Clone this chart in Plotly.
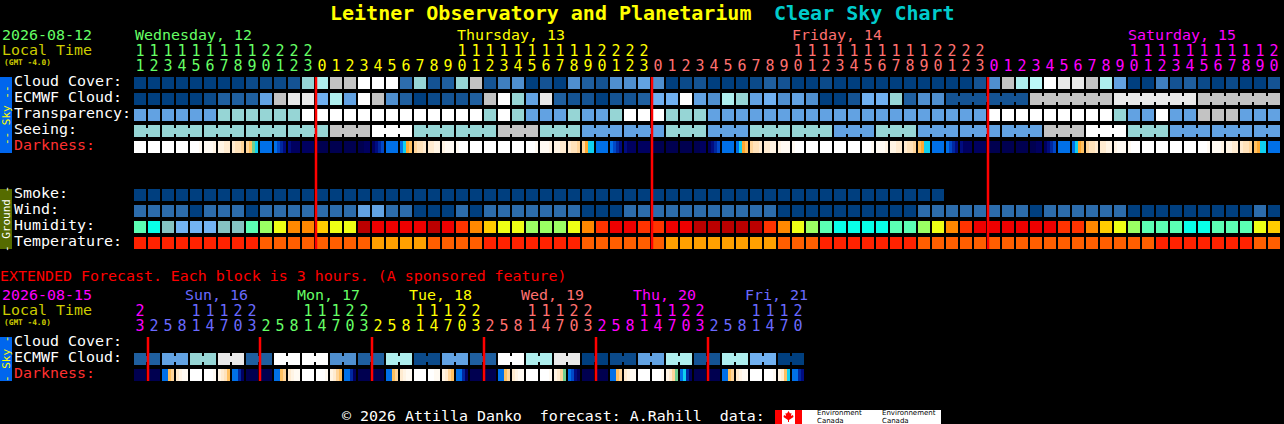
import plotly.graph_objects as go

W, H = 1284, 424
MONO = "DejaVu Sans Mono"

# ---------- data ----------
HOURS = [11,12,13,14,15,16,17,18,19,20,21,22,23] + list(range(24)) + list(range(24)) + list(range(21))
DAY_SPANS = [(13, "#66FF66"), (24, "#FFFF00"), (24, "#FF7070"), (21, "#FF00FF")]
EXT_HOURS = [23] + [2,5,8,11,14,17,20,23]*5 + [2,5,8,11,14,17,20]
EXT_SPANS = [(1, "#FF00FF"), (8, "#6A6AFF"), (8, "#66FF66"), (8, "#FFFF00"), (8, "#FF7070"), (8, "#FF00FF"), (7, "#6A6AFF")]

CLOUD = "aaaaaaaabbbcjkoommmej" "cdjocfgacagdcgghg" "abcaaabdcaabaa" "aaaaaaaac" "goklmnnokh" "aafcdbabaac"
ECMWF = "aaaaabdddhonnikhmogda" "bccdomjhndccaccdi" "imhgkjhighgaac" "iijdgg" "cccccc" "oooooo" "nnnnnn" "oooooo"
ECMWF_SPANS = [1]*58 + [6, 6, 6, 6]
TRANSP = "hhhhhh" "jjjjjj" "mmmmmmmmmmmmm" "j" "m" "j" "hhh" "j" "hh" "j" "mmm" "jjj" "hhhhhhhhhhhhhhhhhhhh" "mmmmmmmmm" "j" "hh" "m" "hh" "ooo" "hhh"
SEEING = "jjjjjomjjojhhjhjjhjhhhomjhhh"
SEEING_SPANS = [2] + [3]*26 + [2]
SMOKE = "a"*58
WIND = ("ttttattta" "ttttttt" "hhtta" "aata" "ttttttt" "aaa" "ttttttttttt" "aaaaaaaaaa" "tttttttt" "a" "tttttt" "aaaaaaaaa" "ta")
HUMID = "MCTBBBTTMLYOOAYYDEEEE" "DEROAYYLLLYOREERREEDDDDDROYLMCC" "CCMMLYOREEEEEERROAYLMMMCCMMMYA"
TEMP = "RRRRRRRRR" "OOOOOOOO" "AAAA" "OOOO" "RRRRRRR" "OOOOOO" "AAAAAAAA" "OOO" "RRRRRRR" "OOOOOOOOOOOOOOOOO" "RRRRRRR" "OO"
DARK = ["0000","0000","0000","0000","0001","1112","2233","3445","5689","aaaa","abcd","deee","eeee","ffff","ffff","ffff","ffee","edcb","aaaa","a976","5443","3322","2111","1000",
        "0000","0000","0000","0000","0001","1112","2233","3445","5799","aaaa","abcd","deee","eeee","ffff","ffff","ffff","ffee","edcb","aaaa","a976","5443","3322","2111","1000",
        "0000","0000","0000","0000","0001","1112","2233","3445","6799","aaaa","abcd","deee","eeee","ffff","ffff","ffff","ffee","edcb","aaaa","a976","5443","3322","2111","1000",
        "0000","0000","0000","0000","0001","1112","2233","3445","6799","aaaa"]
EXT_ECMWF = "dhjndmmgdkbhdmknabhkckia"
EXT_DARK = ["ffff","ffff","aa65","3211","0000","0001","2346","aace",
            "ffff","ffff","aa65","3211","0000","0001","2356","aace",
            "ffff","ffff","aa65","3211","0000","0011","2356","aace",
            "ffff","ffff","aa65","3211","0000","0001","2358","abde",
            "ffff","ffff","aa65","3211","0000","0001","2358","a9ce",
            "ffff","ffff","aa65","3211","0000","0001","2369","aacd"]
MIDNIGHTS = [13, 37, 61]
EXT_MIDNIGHTS = [1, 9, 17, 25, 33, 41]

SKY_PAL = dict(a="#003F7F", b="#0B4A8A", c="#145393", d="#1F5F9F", e="#2D6DAD", f="#3F7FBF", g="#4F8FCF",
               h="#62A2E2", i="#70B0F0", j="#96D5D5", k="#AEEEEE", l="#BBF8F8", m="#FFFFFF", n="#E9E9E9", o="#C3C3C3")
WIND_PAL = dict(a="#003F7F", t="#2C6CAC", h="#62A2E2")
HUM_PAL = dict(M="#5BFFB4", C="#08FFE8", T="#85C2C2", B="#73B3F3", L="#9BFF63", Y="#EEFF15", A="#FFCC00",
               O="#FF8800", R="#FF3300", E="#EE0000", D="#BB0000")
TEMP_PAL = dict(R="#FF2200", O="#FF5E00", A="#FFA000")
DARK_PAL = ["#FFFFFF","#FFFAF2","#FFF4E4","#FFEBD0","#FFE2BA","#FFD59A","#FFC060","#FFA830",
            "#70D090","#10D0F0","#0070E8","#0048C8","#0028A0","#000C80","#000060","#000050"]

# ---------- helpers ----------
fig = go.Figure()

def stepscale(cols):
    n = len(cols)
    cs = []
    for i, c in enumerate(cols):
        cs += [[i / n, c], [(i + 1) / n, c]]
    return cs

def row(letters, y, pal):
    keys = list(pal)
    fig.add_trace(go.Heatmap(x=list(range(len(letters))), y=[y - 8, y + 8],
                             z=[[keys.index(c) + .5 for c in letters]],
                             zmin=0, zmax=len(keys), colorscale=stepscale(list(pal.values())),
                             showscale=False, xgap=2, ygap=4, hoverinfo="skip"))

def dark_row(blocks, y):
    edges, z = [], []
    for i, b in enumerate(blocks):
        for k, c in enumerate(b):
            edges.append(i - 6/14 + k * 3/14)
            z.append(int(c, 16) + .5)
        edges.append(i + 6/14)
        z.append(None)
    edges.append(len(blocks) - 1 + 8/14)
    fig.add_trace(go.Heatmap(x=edges, y=[y - 8, y + 8], z=[z], zmin=0, zmax=16,
                             colorscale=stepscale(DARK_PAL), showscale=False, ygap=4, hoverinfo="skip"))

def connectors(letters, spans, y, pal):
    by = {}
    c = 0
    for letter, sp in zip(letters, spans):
        if sp > 1:
            d = by.setdefault(letter, [[], []])
            d[0] += [c, c + sp - 1, None]
            d[1] += [y, y, None]
        c += sp
    for letter, (xs, ys) in by.items():
        fig.add_trace(go.Scatter(x=xs, y=ys, mode="lines", line=dict(color=pal[letter], width=6), hoverinfo="skip"))

def label_digits(vals, colors, y):
    xs = [i for i, v in enumerate(vals) if v != ""]
    fig.add_trace(go.Scatter(x=xs, y=[y] * len(xs), mode="text", text=[vals[i] for i in xs],
                             textposition="middle center", hoverinfo="skip",
                             textfont=dict(family=MONO, size=15, color=[colors[i] for i in xs])))

def expand(spans):
    out = []
    for n, c in spans:
        out += [c] * n
    return out

def txt(x, y, s, color, size=14.95, bold=False, family=MONO, angle=0, anchor="left"):
    fig.add_annotation(x=x / W, y=1 - y / H, xref="paper", yref="paper", text=f"<b>{s}</b>" if bold else s,
                       showarrow=False, xanchor=anchor, yanchor="middle", borderpad=0, textangle=angle,
                       font=dict(family=family, size=size, color=color))

def rect(x0, y0, x1, y1, color):
    fig.add_shape(type="rect", xref="paper", yref="paper", x0=x0 / W, x1=x1 / W, y0=1 - y0 / H, y1=1 - y1 / H,
                  fillcolor=color, line_width=0, layer="below")

# ---------- rows ----------
row(CLOUD, 83, SKY_PAL)
row(ECMWF, 99, SKY_PAL)
row(TRANSP, 115, SKY_PAL)
row("".join(l * s for l, s in zip(SEEING, SEEING_SPANS)), 131, SKY_PAL)
dark_row(DARK, 147)
row(SMOKE, 195, SKY_PAL)
row(WIND, 211, WIND_PAL)
row(HUMID, 227, HUM_PAL)
row(TEMP, 243, TEMP_PAL)
row("".join(l * 2 for l in EXT_ECMWF), 359, SKY_PAL)
dark_row(EXT_DARK, 375)

connectors(SEEING, SEEING_SPANS, 131, SKY_PAL)
fullecm = []
c = 0
for sp in ECMWF_SPANS:
    fullecm.append(ECMWF[c]); c += sp
connectors(fullecm, ECMWF_SPANS, 99, SKY_PAL)
connectors(EXT_ECMWF, [2] * len(EXT_ECMWF), 359, SKY_PAL)

# midnight lines
xs, ys = [], []
for m in MIDNIGHTS:
    xs += [m - 6/14, m - 6/14, None]; ys += [77, 249, None]
for m in EXT_MIDNIGHTS:
    xs += [m - 6/14, m - 6/14, None]; ys += [337, 381, None]
fig.add_trace(go.Scatter(x=xs, y=ys, mode="lines", line=dict(color="#FF0000", width=2.5), hoverinfo="skip"))

# hour digits
cols = expand(DAY_SPANS)
label_digits([str(h // 10) if h >= 10 else "" for h in HOURS], cols, 52)
label_digits([str(h % 10) for h in HOURS], cols, 67)
ecols = expand(EXT_SPANS)
label_digits([str(h // 10) if h >= 10 else "" for h in EXT_HOURS], ecols, 312)
label_digits([str(h % 10) for h in EXT_HOURS], ecols, 327)

# ---------- text ----------
txt(329, 13, "Leitner Observatory and Planetarium", "#FFFF00", 20, True)
txt(773, 13, "Clear Sky Chart", "#00CCCC", 20, True)
txt(1, 35, "2026-08-12", "#66FF66")
txt(1, 50, "Local Time", "#CCCC00")
txt(3, 62, "(GMT -4.0)", "#CCCC00", 7.8, True)
for x, s, c in [(134, "Wednesday, 12", "#66FF66"), (456, "Thursday, 13", "#FFFF00"),
                (791, "Friday, 14", "#FF7070"), (1127, "Saturday, 15", "#FF00FF")]:
    txt(x, 35, s, c)
for y, s, c in [(81, "Cloud Cover:", "#FFFFFF"), (97, "ECMWF Cloud:", "#FFFFFF"), (113, "Transparency:", "#FFFFFF"),
                (129, "Seeing:", "#FFFFFF"), (145, "Darkness:", "#FF3030"), (193, "Smoke:", "#FFFFFF"),
                (209, "Wind:", "#FFFFFF"), (225, "Humidity:", "#FFFFFF"), (241, "Temperature:", "#FFFFFF"),
                (341, "Cloud Cover:", "#FFFFFF"), (357, "ECMWF Cloud:", "#FFFFFF"), (373, "Darkness:", "#FF3030")]:
    txt(13, y, s, c)
txt(-1, 276, "EXTENDED Forecast. Each block is 3 hours. (A sponsored feature)", "#FF0000")
txt(1, 295, "2026-08-15", "#FF00FF")
txt(1, 310, "Local Time", "#CCCC00")
txt(3, 322, "(GMT -4.0)", "#CCCC00", 7.8, True)
for x, s, c in [(184, "Sun, 16", "#6A6AFF"), (296, "Mon, 17", "#66FF66"), (408, "Tue, 18", "#FFFF00"),
                (520, "Wed, 19", "#FF7070"), (632, "Thu, 20", "#FF00FF"), (744, "Fri, 21", "#6A6AFF")]:
    txt(x, 295, s, c)
txt(341, 416, "© 2026 Attilla Danko  forecast: A.Rahill  data:", "#FFFFFF")

# side bars
rect(0, 77, 12, 153, "#0066EE")
rect(0, 189, 12, 249, "#556B00")
rect(0, 337, 12, 381, "#0066EE")
txt(6, 115, "-- Sky --", "#FFFF00", 11, angle=-90, anchor="center")
txt(6, 219, "- Ground -", "#FFFFFF", 11, angle=-90, anchor="center")
txt(6, 359, "- Sky -", "#FFFF00", 11, angle=-90, anchor="center")

# Environment Canada badge
rect(775, 410, 941, 424, "#FFFFFF")
rect(775, 410, 782, 424, "#FF0000")
rect(795, 410, 802, 424, "#FF0000")
leaf = [(788.5,411),(790,413.5),(791.5,413),(791,416),(793,415),(793.5,417),(792,418),(789,420),(789,422),(788,422),(788,420),(785,418),(783.5,417),(784,415),(786,416),(785.5,413),(787,413.5)]
fig.add_shape(type="path", xref="paper", yref="paper", layer="above", line_width=0, fillcolor="#FF0000",
              path="M " + " L ".join(f"{x/W:.5f} {1-y/H:.5f}" for x, y in leaf) + " Z")
SANS = "DejaVu Sans"
txt(816, 413, "Environment", "#000000", 7, family=SANS)
txt(816, 420.5, "Canada", "#000000", 7, family=SANS)
txt(881, 413, "Environnement", "#000000", 7, family=SANS)
txt(881, 420.5, "Canada", "#000000", 7, family=SANS)

fig.update_layout(width=W, height=H, margin=dict(l=0, r=0, t=0, b=0), autosize=False,
                  paper_bgcolor="#000000", plot_bgcolor="#000000", showlegend=False,
                  xaxis=dict(range=[-140 / 14, (W - 140) / 14], visible=False, fixedrange=True),
                  yaxis=dict(range=[H, 0], visible=False, fixedrange=True))

fig.write_html("out.html", config=dict(displayModeBar=False),
               post_script="document.body.style.margin='0';document.body.style.background='#000';")
